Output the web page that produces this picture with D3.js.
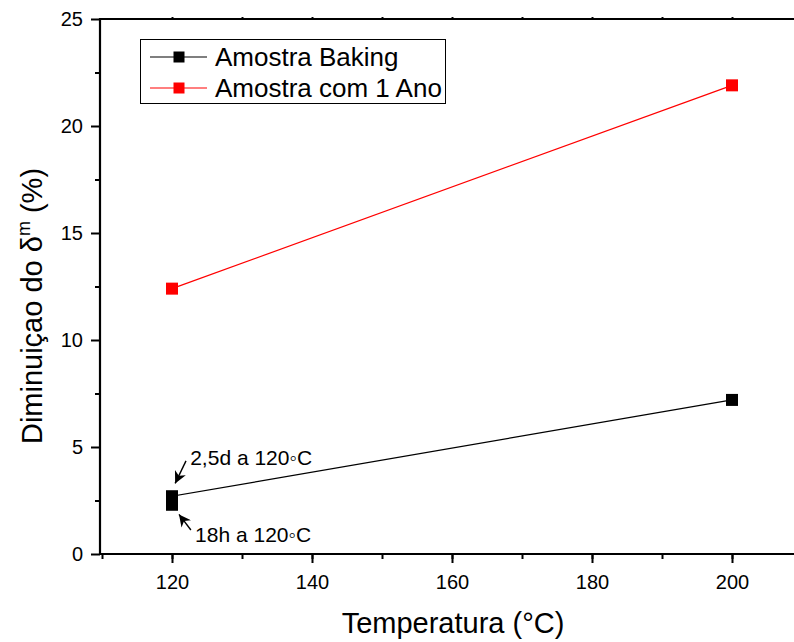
<!DOCTYPE html>
<html><head><meta charset="utf-8">
<script src="https://cdn.jsdelivr.net/npm/d3@7"></script>
<style>body{margin:0;background:#fff}svg{display:block;font-family:"Liberation Sans",Arial,sans-serif}</style>
</head><body><svg id="c" width="794" height="642"></svg>
<script>
const seriesNames = ["Amostra Baking", "Amostra com 1 Ano"];
const bakingX = [120, 120, 200];
const bakingY = [2.3, 2.7, 7.2];
const anoX = [120, 200];
const anoY = [12.4, 21.9];
const xTicks = [120, 140, 160, 180, 200];
const yTicks = [0, 5, 10, 15, 20, 25];
const annotations = ["2,5d a 120\u25E6C", "18h a 120\u25E6C"];

(function () {
const svg = d3.select("#c");
const x = d3.scaleLinear().domain([110, 210]).range([102, 802]);
const y = d3.scaleLinear().domain([0, 25]).range([554, 19]);
const FF = "Liberation Sans, Arial, sans-serif";

// axes
const bottom = svg.append("g").attr("transform", "translate(0,554)");
bottom.call(d3.axisBottom(x).tickValues(d3.range(110, 210, 10)).tickSize(5).tickFormat(""));
bottom.select(".domain").remove();
const bottomMajor = svg.append("g").attr("transform", "translate(0,554)")
  .call(d3.axisBottom(x).tickValues(xTicks).tickSize(9).tickPadding(12).tickFormat(d3.format("d")));
bottomMajor.select(".domain").remove();
bottomMajor.selectAll("text").attr("font-size", 20).attr("fill", "#000").attr("font-family", FF);

const left = svg.append("g").attr("transform", "translate(100,0)");
left.call(d3.axisLeft(y).tickValues(d3.range(2.5, 25, 5)).tickSize(5).tickFormat(""));
left.select(".domain").remove();
const leftMajor = svg.append("g").attr("transform", "translate(100,0)")
  .call(d3.axisLeft(y).tickValues(yTicks).tickSize(9).tickPadding(8).tickFormat(d3.format("d")));
leftMajor.select(".domain").remove();
leftMajor.selectAll("text").attr("font-size", 20).attr("fill", "#000").attr("font-family", FF);

const topAx = svg.append("g").attr("transform", "translate(0,19)");
topAx.call(d3.axisTop(x).tickValues(d3.range(120, 210, 10)).tickSize(2).tickFormat(""));
topAx.select(".domain").remove();

svg.selectAll(".tick line").attr("stroke", "#000").attr("stroke-width", 2);

// spines
svg.append("line").attr("x1", 100).attr("x2", 794).attr("y1", 554).attr("y2", 554).attr("stroke", "#000").attr("stroke-width", 2.2);
svg.append("line").attr("x1", 100).attr("x2", 794).attr("y1", 19).attr("y2", 19).attr("stroke", "#000").attr("stroke-width", 2.2);
svg.append("line").attr("x1", 100).attr("x2", 100).attr("y1", 18).attr("y2", 555).attr("stroke", "#000").attr("stroke-width", 2.2);

// data
const line = d3.line().x(d => x(d[0])).y(d => y(d[1]));
const bak = bakingX.map((v, i) => [v, bakingY[i]]);
const ano = anoX.map((v, i) => [v, anoY[i]]);
svg.append("path").datum(bak).attr("d", line).attr("fill", "none").attr("stroke", "#000").attr("stroke-width", 1.2);
svg.append("path").datum(ano).attr("d", line).attr("fill", "none").attr("stroke", "#ff0000").attr("stroke-width", 1.2);
const ms = 12;
svg.selectAll(".mb").data(bak).join("rect").attr("x", d => x(d[0]) - ms/2).attr("y", d => y(d[1]) - ms/2)
  .attr("width", ms).attr("height", ms).attr("fill", "#000");
svg.selectAll(".ma").data(ano).join("rect").attr("x", d => x(d[0]) - ms/2).attr("y", d => y(d[1]) - ms/2)
  .attr("width", ms).attr("height", ms).attr("fill", "#ff0000");

// annotations
svg.append("defs").append("marker").attr("id", "ah").attr("viewBox", "0 0 10 10").attr("refX", 10).attr("refY", 5)
  .attr("markerWidth", 12).attr("markerHeight", 12).attr("markerUnits", "userSpaceOnUse").attr("orient", "auto")
  .append("path").attr("d", "M0,0 L10,5 L0,10 L3,5 Z").attr("fill", "#000");
svg.append("line").attr("x1", x(122)).attr("y1", y(4.35)).attr("x2", x(120.45)).attr("y2", y(3.3))
  .attr("stroke", "#000").attr("stroke-width", 1.4).attr("marker-end", "url(#ah)");
svg.append("line").attr("x1", x(122.7)).attr("y1", y(1.12)).attr("x2", x(121)).attr("y2", y(1.85))
  .attr("stroke", "#000").attr("stroke-width", 1.4).attr("marker-end", "url(#ah)");
svg.append("text").attr("x", x(122.6)).attr("y", y(4.14)).attr("font-size", 21).attr("font-family", FF).text(annotations[0]);
svg.append("text").attr("x", x(123.3)).attr("y", y(0.56)).attr("font-size", 21).attr("font-family", FF).text(annotations[1]);

// legend
const lg = svg.append("g");
lg.append("rect").attr("x", 140.5).attr("y", 39.5).attr("width", 305).attr("height", 64)
  .attr("fill", "#fff").attr("stroke", "#000").attr("stroke-width", 1);
const colors = ["#000", "#ff0000"];
seriesNames.forEach((n, i) => {
  const cy = 57 + i * 31;
  lg.append("line").attr("x1", 150).attr("x2", 207).attr("y1", cy).attr("y2", cy).attr("stroke", colors[i]).attr("stroke-width", 1.2);
  lg.append("rect").attr("x", 173.5).attr("y", cy - 5.5).attr("width", 11).attr("height", 11).attr("fill", colors[i]);
  lg.append("text").attr("x", 215).attr("y", cy + 9).attr("font-size", 26).attr("font-family", FF).text(n);
});

// axis titles
svg.append("text").attr("x", 453).attr("y", 633).attr("text-anchor", "middle").attr("font-size", 29).attr("font-family", FF).text("Temperatura (°C)");
const yt = svg.append("text").attr("transform", "translate(42,306) rotate(-90)").attr("text-anchor", "middle").attr("font-size", 29).attr("font-family", FF);
yt.append("tspan").text("Diminuiçao do δ");
yt.append("tspan").attr("font-size", 18).attr("dy", -12).text("m");
yt.append("tspan").attr("dy", 12).text(" (%)");
})();
</script></body></html>
